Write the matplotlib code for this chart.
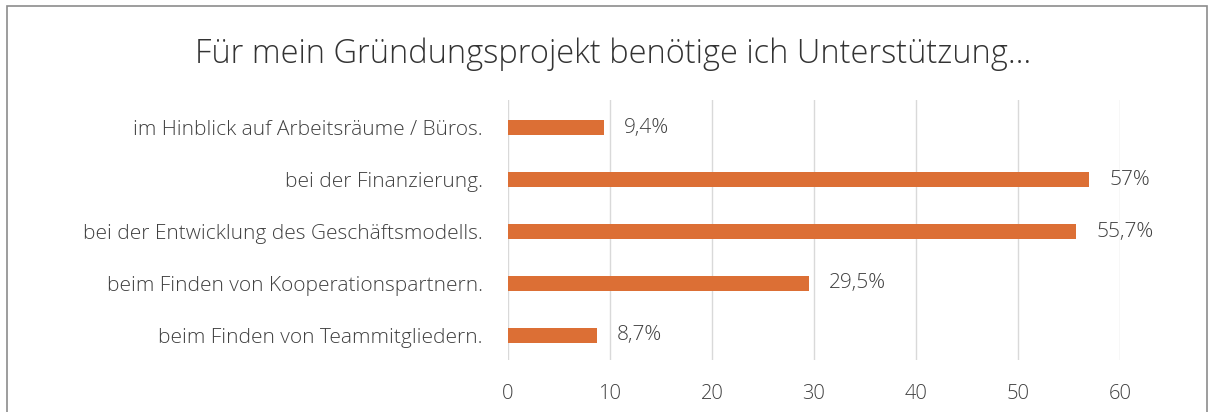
import matplotlib
matplotlib.use("Agg")
import matplotlib.pyplot as plt
from matplotlib.patches import Rectangle

categories = ["im Hinblick auf Arbeitsräume / Büros.",
              "bei der Finanzierung.",
              "bei der Entwicklung des Geschäftsmodells.",
              "beim Finden von Kooperationspartnern.",
              "beim Finden von Teammitgliedern."]
values = [9.4, 57, 55.7, 29.5, 8.7]
value_labels = ["9,4%", "57%", "55,7%", "29,5%", "8,7%"]
xticks = [0, 10, 20, 30, 40, 50, 60]

plt.rcParams['font.family'] = ['Open Sans', 'DejaVu Sans']

fig = plt.figure(figsize=(12.14, 4.12), dpi=100)
ax = fig.add_axes([508/1214, 52/412, 612/1214, 260/412])

y = list(range(len(categories)))
ax.barh(y, values, height=0.29, color="#dc6f35", zorder=3)
for yi, v, lab in zip(y, values, value_labels):
    ax.text(v + 2.0, yi, lab, va="center", ha="left", fontsize=15,
            color="#404040", fontweight="light")

ax.set_yticks(y)
ax.set_yticklabels(categories, fontsize=15, color="#404040", fontweight="light")
ax.set_ylim(4.48, -0.54)
ax.set_xlim(0, 60)
ax.set_xticks(xticks)
ax.set_xticklabels([str(t) for t in xticks], fontsize=14.5, color="#404040", fontweight="light")
ax.tick_params(axis="both", length=0)
ax.tick_params(axis="y", pad=18)
ax.tick_params(axis="x", pad=17)
ax.grid(axis="x", color="#d9d9d9", linewidth=1, zorder=0)
for s in ax.spines.values():
    s.set_visible(False)

fig.text(0.505, 358/412, "Für mein Gründungsprojekt benötige ich Unterstützung…",
         ha="center", va="center", fontsize=23.5, color="#333333", fontweight="light")

fig.patches.append(Rectangle((7/1214, -0.1), 1200/1214, 0.1 + 406/412,
                             transform=fig.transFigure, fill=False,
                             edgecolor="#8c8c8c", linewidth=1.2))

fig.savefig("out.png", dpi=100)
